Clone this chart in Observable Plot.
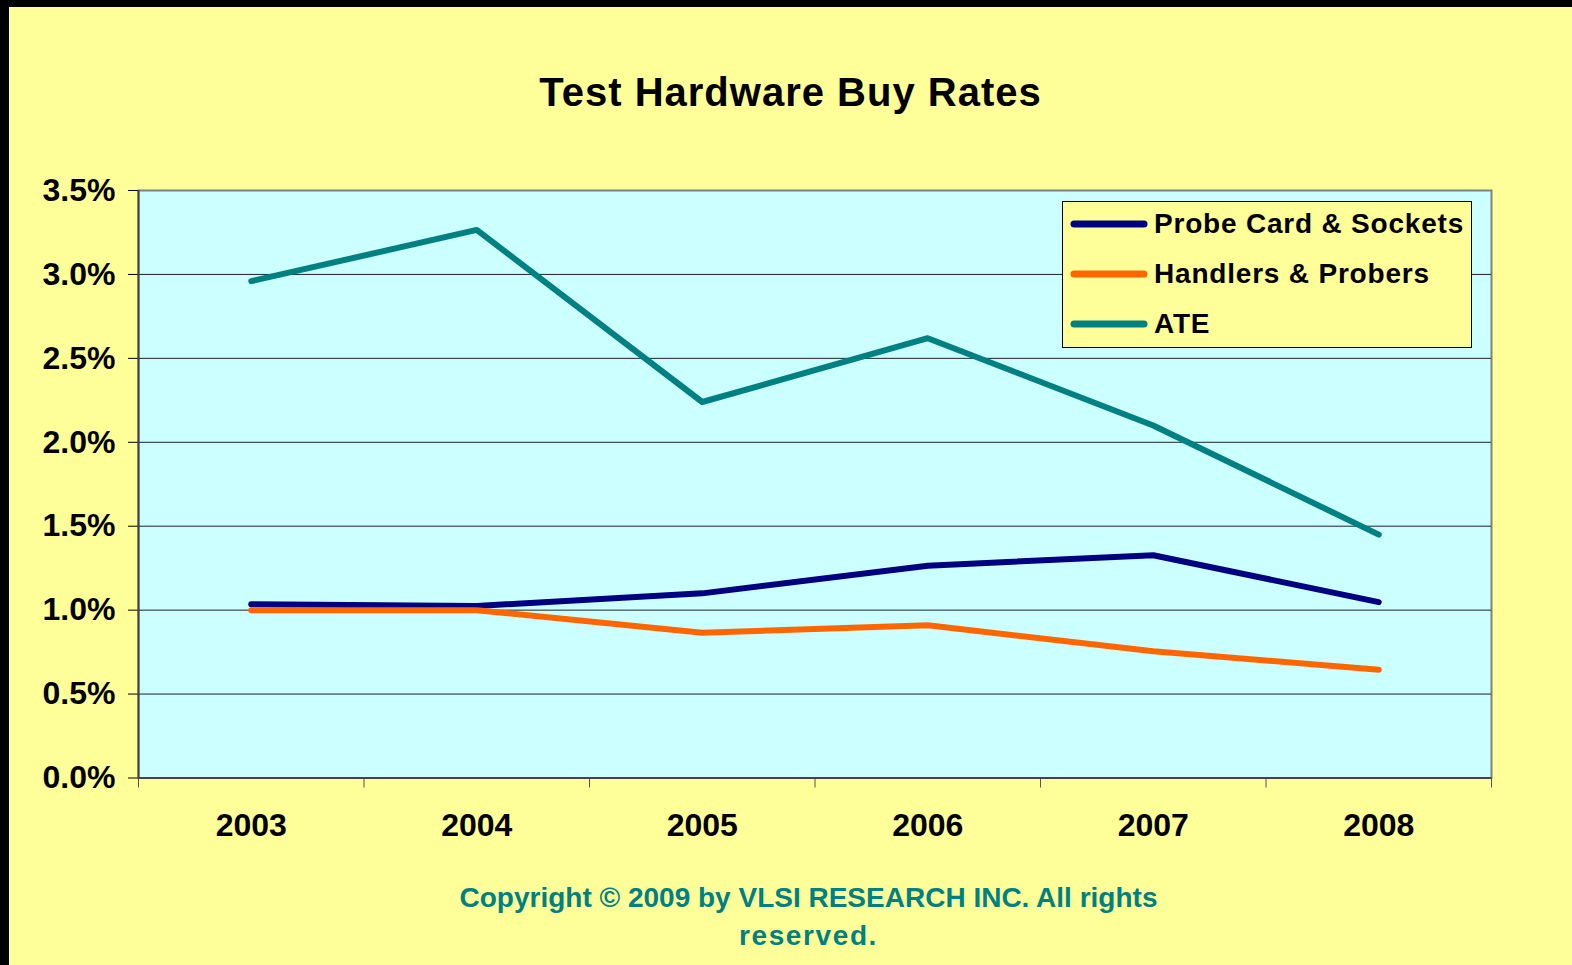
<!DOCTYPE html>
<html><head><meta charset="utf-8">
<script src="https://cdn.jsdelivr.net/npm/d3@7"></script>
<script src="https://cdn.jsdelivr.net/npm/@observablehq/plot@0.6"></script>
<style>
body{margin:0;background:#000;}
#page{position:relative;width:1572px;height:965px;box-sizing:border-box;border-top:7px solid #000;border-left:9px solid #000;background:#FFFF99;overflow:hidden;font-family:"Liberation Sans",Arial,sans-serif;}
#title{position:absolute;left:0;width:1563px;top:65px;line-height:40px;text-align:center;font-weight:bold;font-size:40px;letter-spacing:1px;color:#000;}
#chart{position:absolute;left:-9px;top:143px;}
#legend{position:absolute;left:1053px;top:194px;width:410px;height:147px;box-sizing:border-box;border:1px solid #000;background:#FFFF99;}
.row{position:absolute;left:0;height:40px;display:flex;align-items:center;font-weight:bold;font-size:28px;letter-spacing:0.8px;color:#000;}
.row svg{margin-left:7px;margin-right:6px;}
#caption{position:absolute;left:0;width:1599px;top:872px;line-height:38px;text-align:center;font-weight:bold;font-size:28px;color:#008080;}
#caption .l2{letter-spacing:1.6px;}
</style></head>
<body>
<div id="page">
  <div id="title">Test Hardware Buy Rates</div>
  <div id="chart"></div>
  <div id="legend"></div>
  <div id="caption">Copyright © 2009 by VLSI RESEARCH INC. All rights<br><span class="l2">reserved.</span></div>
</div>
<script>
const years = [2003, 2004, 2005, 2006, 2007, 2008];
const seriesNames = ["Probe Card & Sockets", "Handlers & Probers", "ATE"];
const seriesColors = ["#000080", "#FF6600", "#008080"];
const probeCard = [1.035, 1.025, 1.10, 1.265, 1.327, 1.048];
const handlers = [1.00, 1.00, 0.865, 0.91, 0.755, 0.645];
const ate = [2.96, 3.265, 2.24, 2.62, 2.10, 1.45];
const yTicks = [0, 0.5, 1.0, 1.5, 2.0, 2.5, 3.0, 3.5];

const seriesValues = [probeCard, handlers, ate];
const rows = [];
seriesNames.forEach((name, i) => {
  years.forEach((yr, j) => rows.push({series: name, year: yr, value: seriesValues[i][j]}));
});
const xMin = years[0] - 0.5, xMax = years[years.length - 1] + 0.5;
const bounds = years.map(y => y - 0.5).concat([xMax]);
const yMax = yTicks[yTicks.length - 1];

const chart = Plot.plot({
  width: 1572,
  height: 720,
  marginLeft: 138,
  marginRight: 81,
  marginTop: 40,
  marginBottom: 92.5,
  style: {fontFamily: "'Liberation Sans', Arial, sans-serif", background: "transparent", color: "#000"},
  x: {type: "linear", domain: [xMin, xMax]},
  y: {domain: [0, yMax]},
  color: {domain: seriesNames, range: seriesColors},
  marks: [
    Plot.frame({fill: "#CCFFFF", stroke: "#808080", strokeWidth: 2}),
    Plot.gridY(yTicks.slice(1, -1), {stroke: "#222", strokeOpacity: 1, strokeWidth: 1}),
    Plot.axisY({ticks: yTicks, tickSize: 10, tickPadding: 13, tickFormat: d => d.toFixed(1) + "%", fontSize: 32, fontWeight: "bold", stroke: "#000", fill: "#000", label: null}),
    Plot.axisX({ticks: bounds, tickSize: 10, tickFormat: () => "", stroke: "#555", label: null}),
    Plot.axisX({ticks: years, tickSize: 0, tickPadding: 35, tickFormat: d => String(d), fontSize: 32, fontWeight: "bold", fill: "#000", label: null}),
    Plot.ruleX([xMin], {stroke: "#444", strokeWidth: 2}),
    Plot.ruleY([0], {stroke: "#444", strokeWidth: 2}),
    Plot.line(rows, {x: "year", y: "value", z: "series", stroke: "series", strokeWidth: 6, strokeLinecap: "round", strokeLinejoin: "round"})
  ]
});
document.getElementById("chart").appendChild(chart);

const legend = document.getElementById("legend");
seriesNames.forEach((name, i) => {
  const row = document.createElement("div");
  row.className = "row";
  row.style.top = (2 + i * 50) + "px";
  row.innerHTML = `<svg width="78" height="10"><line x1="4" y1="5" x2="74" y2="5" stroke="${seriesColors[i]}" stroke-width="7" stroke-linecap="round"/></svg><span></span>`;
  row.querySelector("span").textContent = name;
  legend.appendChild(row);
});
</script>
</body></html>
